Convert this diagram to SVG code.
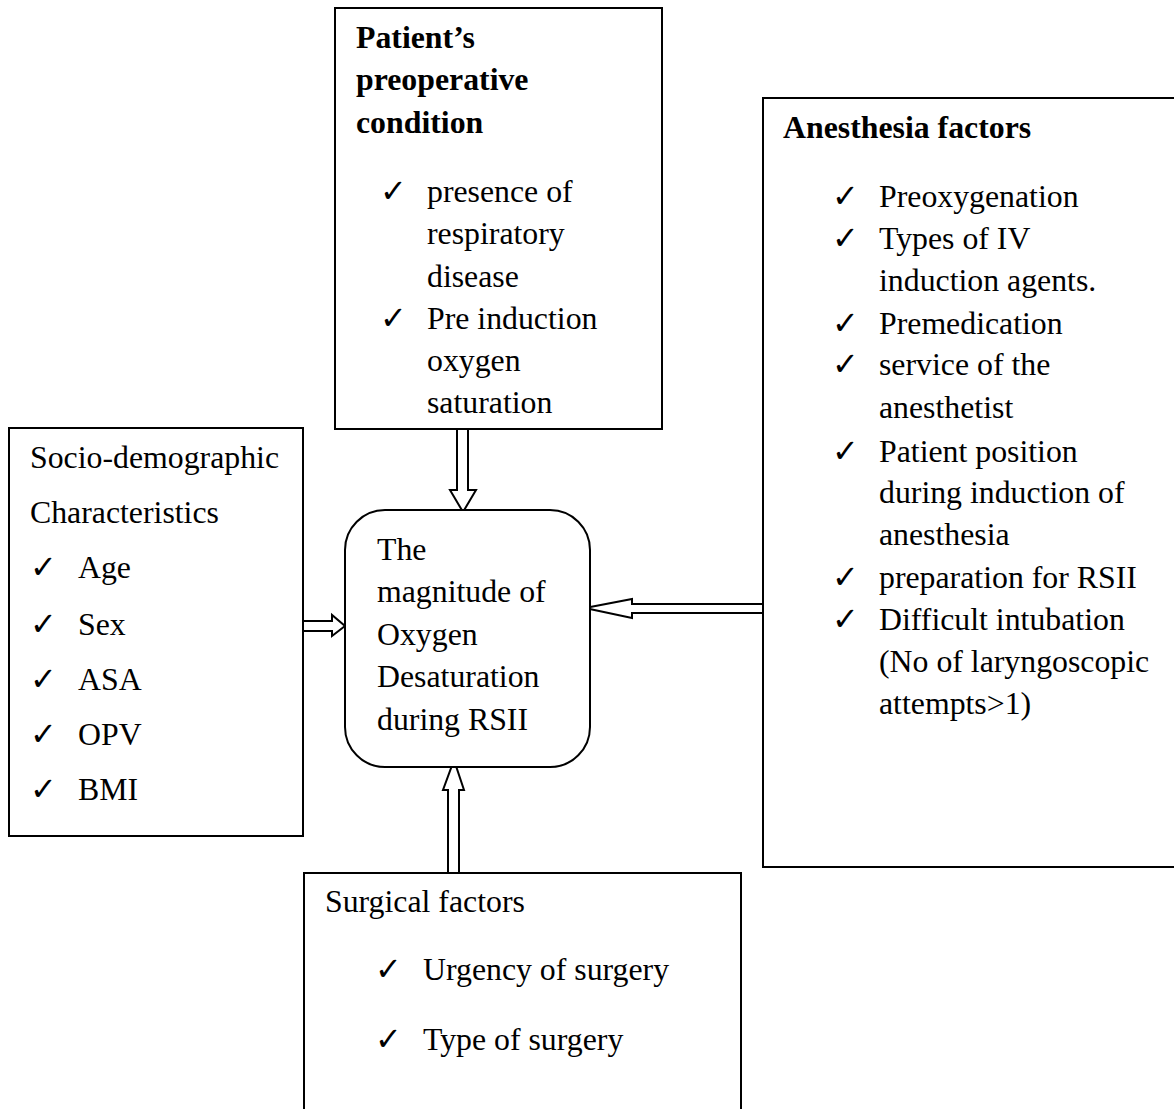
<svg xmlns="http://www.w3.org/2000/svg" width="1174" height="1109" viewBox="0 0 1174 1109">
<style>
.box{fill:#fff;stroke:#000;stroke-width:2}
.arr{fill:#fff;stroke:#000;stroke-width:2;stroke-linejoin:miter}
text{font-family:"Liberation Serif","Times New Roman",serif;font-size:31.8px;fill:#000}
.b{font-weight:bold}
.ck{font-family:"DejaVu Sans",sans-serif;font-size:32px;font-weight:bold}
</style>
<rect width="1174" height="1109" fill="#fff"/>
<g id="connectors">
<path class="arr" d="M457,429 V490 H450 L463,512 L476,490 H468 V429 Z"/>
<path class="arr" d="M300,621 H332 V615 L345,626 L332,636 V631 H300 Z"/>
<path class="arr" d="M767,604 H632 V599 L585,608 L632,618 V613 H767 Z"/>
<path class="arr" d="M448,873 V790 H443 L454,760 L464,790 H459 V873 Z"/>
</g>
<g id="node-preop">
<rect class="box" x="335" y="8" width="327" height="421"/>
<text class="b" x="356" y="48">Patient’s</text>
<text class="b" x="356" y="90">preoperative</text>
<text class="b" x="356" y="133">condition</text>
<text class="ck" x="380" y="202">✓</text>
<text x="427" y="202">presence of</text>
<text x="427" y="244">respiratory</text>
<text x="427" y="287">disease</text>
<text class="ck" x="380" y="329">✓</text>
<text x="427" y="329">Pre induction</text>
<text x="427" y="371">oxygen</text>
<text x="427" y="413">saturation</text>
</g>
<g id="node-center">
<rect class="box" x="345" y="510" width="245" height="257" rx="40" ry="40"/>
<text x="377" y="560">The</text>
<text x="377" y="602">magnitude of</text>
<text x="377" y="645">Oxygen</text>
<text x="377" y="687">Desaturation</text>
<text x="377" y="730">during RSII</text>
</g>
<g id="node-socio">
<rect class="box" x="9" y="428" width="294" height="408"/>
<text x="30" y="468">Socio-demographic</text>
<text x="30" y="523">Characteristics</text>
<text class="ck" x="30" y="578">✓</text><text x="78" y="578">Age</text>
<text class="ck" x="30" y="635">✓</text><text x="78" y="635">Sex</text>
<text class="ck" x="30" y="690">✓</text><text x="78" y="690">ASA</text>
<text class="ck" x="30" y="745">✓</text><text x="78" y="745">OPV</text>
<text class="ck" x="30" y="800">✓</text><text x="78" y="800">BMI</text>
</g>
<g id="node-anesthesia">
<rect class="box" x="763" y="98" width="420" height="769"/>
<text class="b" x="783" y="138">Anesthesia factors</text>
<text class="ck" x="832" y="207">✓</text><text x="879" y="207">Preoxygenation</text>
<text class="ck" x="832" y="249">✓</text><text x="879" y="249">Types of IV</text>
<text x="879" y="291">induction agents.</text>
<text class="ck" x="832" y="334">✓</text><text x="879" y="334">Premedication</text>
<text class="ck" x="832" y="375">✓</text><text x="879" y="375">service of the</text>
<text x="879" y="418">anesthetist</text>
<text class="ck" x="832" y="462">✓</text><text x="879" y="462">Patient position</text>
<text x="879" y="503">during induction of</text>
<text x="879" y="545">anesthesia</text>
<text class="ck" x="832" y="588">✓</text><text x="879" y="588">preparation for RSII</text>
<text class="ck" x="832" y="630">✓</text><text x="879" y="630">Difficult intubation</text>
<text x="879" y="672">(No of laryngoscopic</text>
<text x="879" y="714">attempts&gt;1)</text>
</g>
<g id="node-surgical">
<path class="box" d="M304,1115 V873 H741 V1115"/>
<text x="325" y="912">Surgical factors</text>
<text class="ck" x="375" y="980">✓</text><text x="423" y="980">Urgency of surgery</text>
<text class="ck" x="375" y="1050">✓</text><text x="423" y="1050">Type of surgery</text>
</g>
</svg>
